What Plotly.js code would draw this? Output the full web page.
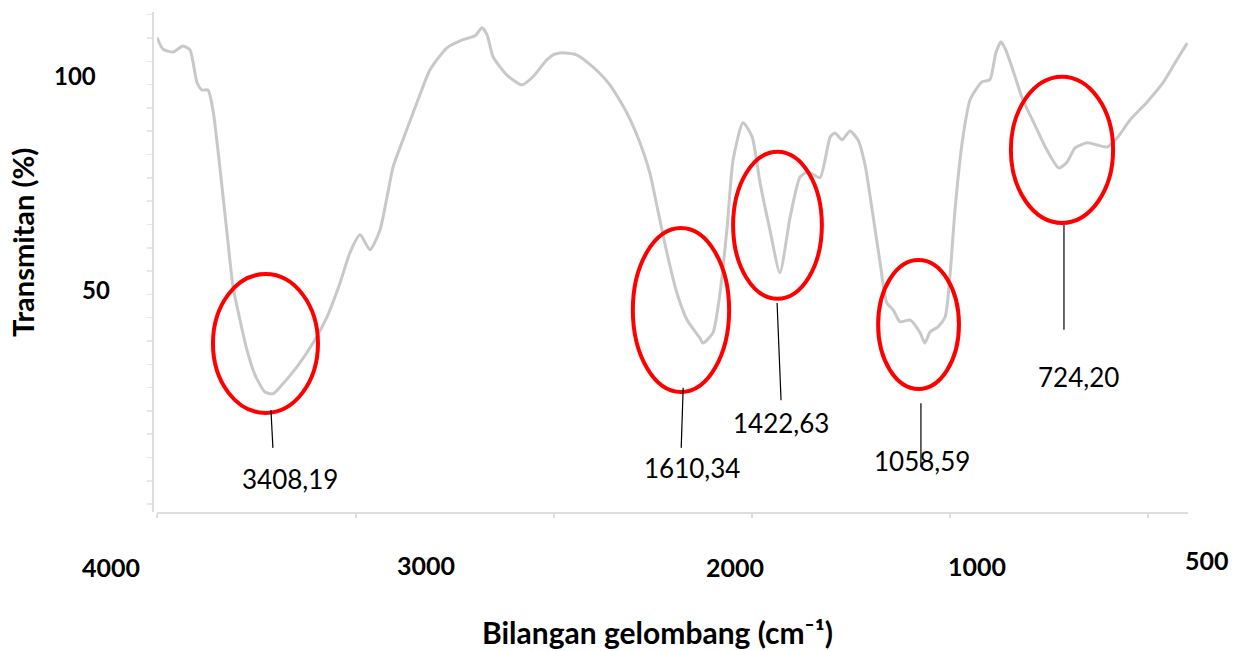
<!DOCTYPE html>
<html>
<head>
<meta charset="utf-8">
<script src="https://cdn.plot.ly/plotly-3.0.1.min.js"></script>
<style>
  html, body { margin: 0; padding: 0; background: #ffffff; }
  #chart { width: 1242px; height: 651px; }
</style>
</head>
<body>
<div id="chart"></div>
<script>
// ---------- data ----------
const wavenumber = [4000, 3970, 3919, 3869, 3834, 3798, 3773, 3743, 3718, 3693,
  3667, 3642, 3617, 3582, 3547, 3506, 3456, 3416, 3380, 3295,
  3214, 3144, 3078, 3028, 2977, 2927, 2877, 2841, 2811, 2761,
  2685, 2625, 2539, 2458, 2398, 2363, 2337, 2307, 2237, 2161,
  2106, 2035, 1985, 1942, 1902, 1859, 1816, 1783, 1758, 1738,
  1715, 1690, 1664, 1632, 1624, 1599, 1581, 1563, 1548, 1523,
  1500, 1480, 1455, 1430, 1404, 1379, 1359, 1329, 1303, 1291,
  1273, 1253, 1233, 1215, 1197, 1177, 1160, 1144, 1127, 1101,
  1076, 1064, 1051, 1031, 1013, 1001, 988, 970, 950, 920,
  900, 885, 872, 860, 842, 817, 789, 756, 726, 705,
  685, 655, 629, 604, 579, 546, 503, 463, 428, 402];
const transmittance = [109.0, 106.3, 105.6, 107.0, 106.1, 98.4, 96.7, 96.7, 92.0, 82.6,
  71.6, 60.8, 50.5, 42.7, 35.7, 29.8, 25.8, 25.4, 27.0, 31.7,
  37.3, 43.4, 51.4, 58.5, 62.7, 59.2, 63.8, 71.6, 78.6, 85.0,
  94.4, 101.4, 106.6, 108.5, 109.4, 111.3, 109.6, 104.5, 100.2, 97.9,
  99.8, 103.8, 105.4, 104.9, 102.1, 97.9, 91.3, 84.3, 77.2, 68.5,
  58.5, 49.1, 42.7, 38.5, 37.3, 39.7, 49.1, 64.6, 80.3, 89.0,
  85.7, 74.9, 63.8, 53.8, 66.9, 76.3, 77.5, 76.1, 85.7, 86.6,
  85.0, 87.1, 85.0, 79.1, 68.5, 56.1, 46.7, 45.1, 42.3, 42.7,
  39.7, 37.3, 39.9, 41.1, 43.4, 52.8, 68.5, 84.3, 94.4, 98.6,
  99.1, 105.4, 108.0, 106.1, 101.4, 94.4, 89.0, 82.6, 78.4, 79.8,
  83.1, 84.3, 83.8, 83.3, 85.4, 89.7, 93.9, 98.4, 103.8, 107.7];

const xTickLabels = ['4000', '3000', '2000', '1000', '500'];
const yTickLabels = ['100', '50'];
const peakLabels = ['3408,19', '1610,34', '1422,63', '1058,59', '724,20'];
const xTitle = 'Bilangan gelombang (cm\u207B\u00B9)';
const yTitle = 'Transmitan (%)';

// ---------- layout helpers (pixel -> paper) ----------
const W = 1242, H = 651;
const px = v => v / W;
const py = v => 1 - v / H;

// label placements (pixel centres)
const xTickPos = [[111, 567], [426, 565], [735, 567], [977, 566], [1207, 560]];
const yTickPos = [[75, 76], [96, 289]];
const peakLabelPos = [[290, 479], [692, 468], [781, 423], [922, 461], [1078, 377]];

// highlight ellipses & leader lines, in data units: [xref, x0, x1, y0, y1]
const ellipses = [
  ['x', 3718, 3189, 53.5, 20.9],
  ['x2', 1801, 1558, 64.3, 25.8],
  ['x2', 1548, 1324, 82.2, 47.7],
  ['x2', 1182, 978, 56.8, 26.5],
  ['x2', 847, 589, 99.8, 65.5]
];
const leaders = [
  ['x', 3426, 3416, 21.6, 12.7],
  ['x2', 1674, 1679, 26.8, 12.7],
  ['x2', 1437, 1427, 46.7, 23.9],
  ['x2', 1074, 1074, 23.2, 8.2],
  ['x2', 713, 713, 65.0, 40.4]
];

const curveStyle = { color: '#c8c8c8', width: 3, shape: 'spline', smoothing: 0.6 };

const traces = [
  { x: wavenumber, y: transmittance, xaxis: 'x', yaxis: 'y', type: 'scatter', mode: 'lines',
    line: curveStyle, hoverinfo: 'skip', showlegend: false },
  { x: wavenumber, y: transmittance, xaxis: 'x2', yaxis: 'y', type: 'scatter', mode: 'lines',
    line: curveStyle, hoverinfo: 'skip', showlegend: false }
];

const faint = '#dedede';
const annotations = [];
xTickLabels.forEach((t, i) => annotations.push({
  text: t, xref: 'paper', yref: 'paper', x: px(xTickPos[i][0]), y: py(xTickPos[i][1]),
  xanchor: 'center', yanchor: 'middle', showarrow: false,
  font: { family: 'Lato, sans-serif', size: 25, color: '#000', weight: 'bold' }
}));
yTickLabels.forEach((t, i) => annotations.push({
  text: t, xref: 'paper', yref: 'paper', x: px(yTickPos[i][0]), y: py(yTickPos[i][1]),
  xanchor: 'center', yanchor: 'middle', showarrow: false,
  font: { family: 'Lato, sans-serif', size: 24, color: '#000', weight: 'bold' }
}));
peakLabels.forEach((t, i) => annotations.push({
  text: t, xref: 'paper', yref: 'paper', x: px(peakLabelPos[i][0]), y: py(peakLabelPos[i][1]),
  xanchor: 'center', yanchor: 'middle', showarrow: false,
  font: { family: 'Lato, sans-serif', size: 26, color: '#000' }
}));
annotations.push({
  text: xTitle, xref: 'paper', yref: 'paper', x: px(657), y: py(632),
  xanchor: 'center', yanchor: 'middle', showarrow: false,
  font: { family: 'Lato, sans-serif', size: 30, color: '#000', weight: 'bold' }
});
annotations.push({
  text: yTitle, xref: 'paper', yref: 'paper', x: px(22), y: py(243), textangle: -90,
  xanchor: 'center', yanchor: 'middle', showarrow: false,
  font: { family: 'Lato, sans-serif', size: 29, color: '#000', weight: 'bold' }
});

const shapes = [];
ellipses.forEach(e => shapes.push({
  type: 'circle', xref: e[0], yref: 'y', x0: e[1], x1: e[2], y0: e[3], y1: e[4],
  line: { color: '#ff0000', width: 4 }, fillcolor: 'rgba(0,0,0,0)'
}));
leaders.forEach(l => shapes.push({
  type: 'line', xref: l[0], yref: 'y', x0: l[1], x1: l[2], y0: l[3], y1: l[4],
  line: { color: '#000000', width: 1.2 }
}));

const layout = {
  width: W, height: H, autosize: false,
  margin: { l: 0, r: 0, t: 0, b: 0 },
  paper_bgcolor: '#ffffff', plot_bgcolor: 'rgba(0,0,0,0)',
  showlegend: false,
  xaxis: {
    domain: [px(157), px(554)], range: [4000, 2000], anchor: 'y',
    showline: true, linecolor: faint, linewidth: 2, mirror: false,
    ticks: 'outside', tickvals: [4000, 3000, 2000], ticklen: 4, tickcolor: faint, tickwidth: 2,
    showticklabels: false, showgrid: false, zeroline: false, fixedrange: true
  },
  xaxis2: {
    domain: [px(554), px(1188)], range: [2000, 400], anchor: 'y',
    showline: true, linecolor: faint, linewidth: 2,
    ticks: 'outside', tickvals: [1500, 1000, 500], ticklen: 4, tickcolor: faint, tickwidth: 2,
    showticklabels: false, showgrid: false, zeroline: false, fixedrange: true
  },
  yaxis: {
    domain: [py(512), py(12)], range: [-2.35, 115.0],
    anchor: 'free', position: px(153),
    showline: true, linecolor: faint, linewidth: 2,
    ticks: 'outside', tick0: -0.5, dtick: 5.47, ticklen: 5, tickcolor: '#e6e6e6', tickwidth: 1.5,
    showticklabels: false, showgrid: false, zeroline: false, fixedrange: true
  },
  annotations: annotations,
  shapes: shapes
};

Plotly.newPlot('chart', traces, layout, { staticPlot: true, displayModeBar: false });
</script>
</body>
</html>
